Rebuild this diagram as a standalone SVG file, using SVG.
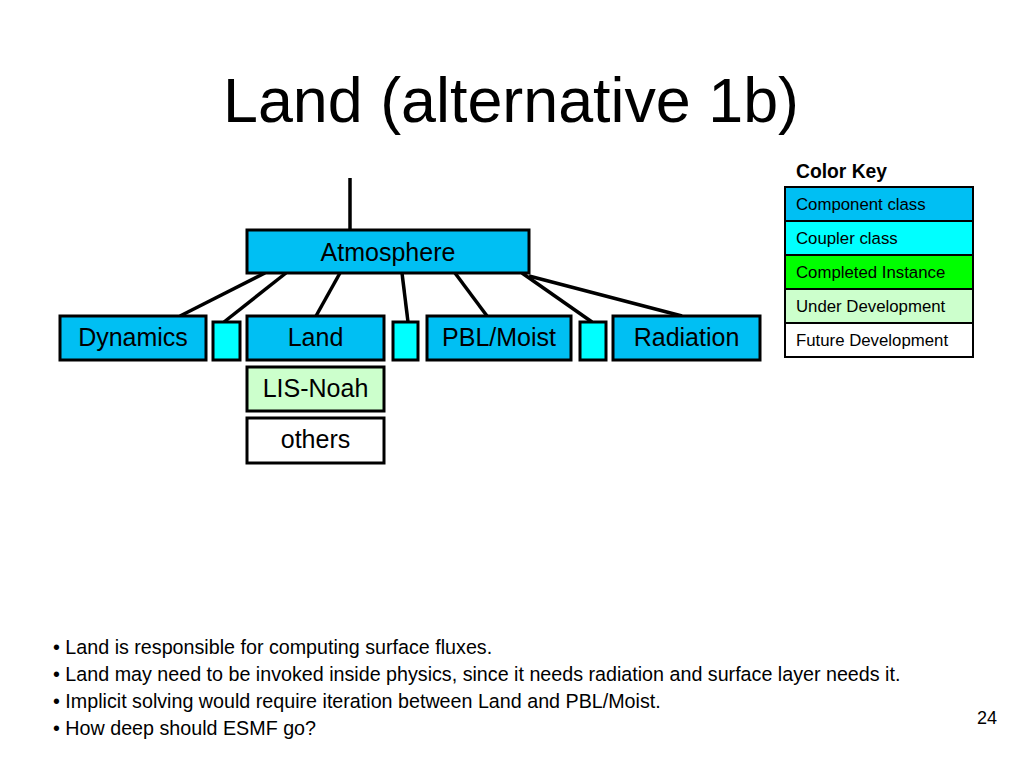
<svg xmlns="http://www.w3.org/2000/svg" width="1024" height="768" viewBox="0 0 1024 768">
<style>
text{font-family:"Liberation Sans",Arial,sans-serif;fill:#000}
.box{stroke:#000;stroke-width:3}
.comp{fill:#00BFF3}
.coup{fill:#00FFFF}
.done{fill:#00FF00}
.dev{fill:#CCFFCC}
.fut{fill:#FFFFFF}
.lbl{font-size:25px;text-anchor:middle}
.key{stroke:#000;stroke-width:2}
.kt{font-size:16.8px}
.bul{font-size:19.7px}
.con line{stroke:#000;stroke-width:3.5}
</style>
<rect width="1024" height="768" fill="#fff"/>
<text x="511" y="122" font-size="62.8" text-anchor="middle">Land (alternative 1b)</text>
<g id="connectors" class="con">
<line x1="350" y1="178" x2="350" y2="230"/>
<line x1="265" y1="273" x2="180" y2="316"/>
<line x1="286" y1="273" x2="224" y2="322"/>
<line x1="340" y1="273" x2="316" y2="316"/>
<line x1="402" y1="273" x2="408" y2="322"/>
<line x1="455" y1="273" x2="487" y2="316"/>
<line x1="522" y1="273" x2="592" y2="322"/>
<line x1="529" y1="276" x2="682" y2="316"/>
</g>
<g id="atmosphere"><rect class="box comp" x="247" y="230" width="282" height="43"/><text class="lbl" x="388" y="261">Atmosphere</text></g>
<g id="dynamics"><rect class="box comp" x="60" y="316" width="146" height="44"/><text class="lbl" x="133" y="346">Dynamics</text></g>
<g id="coupler1"><rect class="box coup" x="213" y="322" width="27" height="38"/></g>
<g id="land"><rect class="box comp" x="247" y="316" width="137" height="44"/><text class="lbl" x="315.5" y="346">Land</text></g>
<g id="coupler2"><rect class="box coup" x="393" y="322" width="25" height="38"/></g>
<g id="pblmoist"><rect class="box comp" x="427" y="316" width="144" height="44"/><text class="lbl" x="499" y="346">PBL/Moist</text></g>
<g id="coupler3"><rect class="box coup" x="580" y="322" width="26" height="38"/></g>
<g id="radiation"><rect class="box comp" x="613" y="316" width="147" height="44"/><text class="lbl" x="686.5" y="346">Radiation</text></g>
<g id="lisnoah"><rect class="box dev" x="247" y="367" width="137" height="44"/><text class="lbl" x="315.5" y="397">LIS-Noah</text></g>
<g id="others"><rect class="box fut" x="247" y="418" width="137" height="45"/><text class="lbl" x="315.5" y="448">others</text></g>
<g id="colorkey">
<text x="796" y="178" font-size="19.3" font-weight="bold">Color Key</text>
<rect class="key comp" x="785" y="187" width="188" height="34"/><text class="kt" x="796" y="210">Component class</text>
<rect class="key coup" x="785" y="221" width="188" height="34"/><text class="kt" x="796" y="244">Coupler class</text>
<rect class="key done" x="785" y="255" width="188" height="34"/><text class="kt" x="796" y="278">Completed Instance</text>
<rect class="key dev" x="785" y="289" width="188" height="34"/><text class="kt" x="796" y="312">Under Development</text>
<rect class="key fut" x="785" y="323" width="188" height="34"/><text class="kt" x="796" y="346">Future Development</text>
</g>
<g id="bullets">
<text class="bul" x="53" y="654">• Land is responsible for computing surface fluxes.</text>
<text class="bul" x="53" y="681">• Land may need to be invoked inside physics, since it needs radiation and surface layer needs it.</text>
<text class="bul" x="53" y="708">• Implicit solving would require iteration between Land and PBL/Moist.</text>
<text class="bul" x="53" y="735">• How deep should ESMF go?</text>
</g>
<text x="987" y="724" font-size="18" text-anchor="middle">24</text>
</svg>
